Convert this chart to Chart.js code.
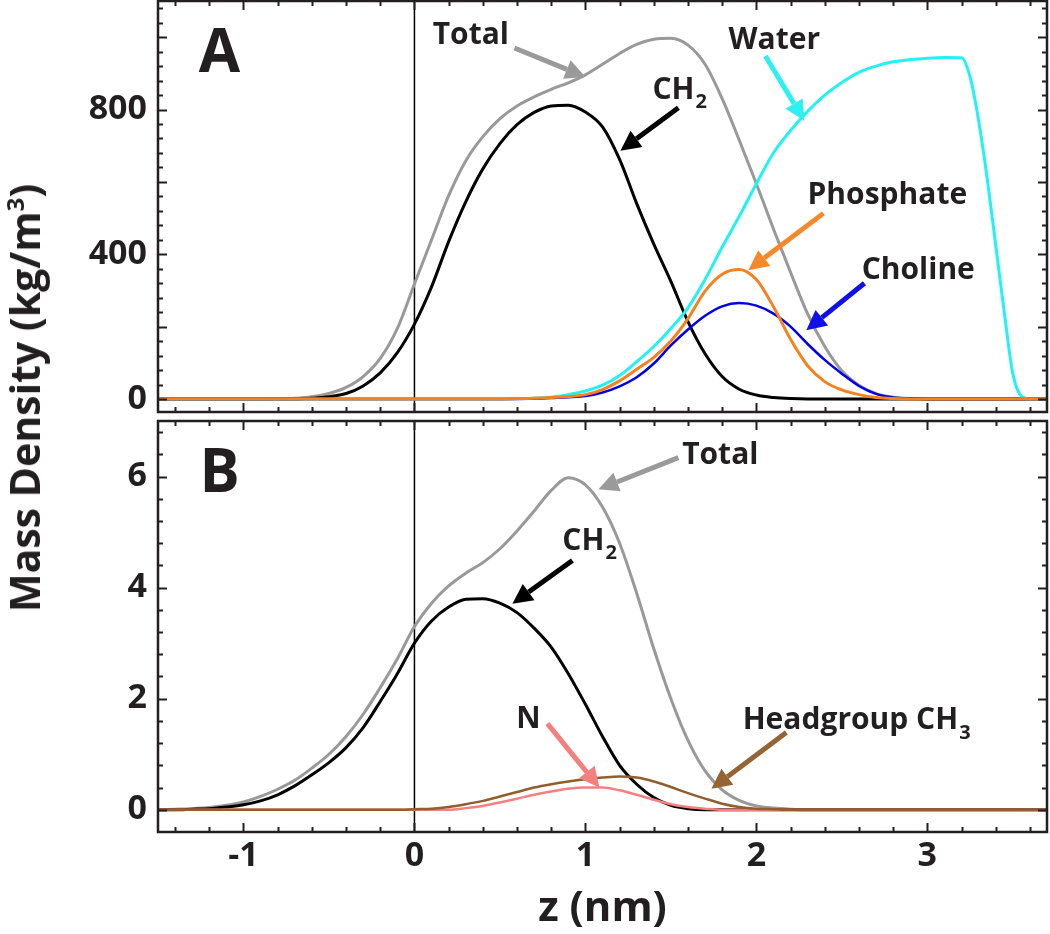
<!DOCTYPE html>
<html>
<head>
<meta charset="utf-8">
<title>Mass density profiles</title>
<script src="https://cdn.jsdelivr.net/npm/chart.js@4"></script>
<style>
  body { margin: 0; background: #fff; width: 1050px; height: 934px; position: relative; overflow: hidden; }
  #wrapA { position: absolute; left: 0; top: 0; width: 1050px; height: 415px; }
  #wrapB { position: absolute; left: 0; top: 415px; width: 1050px; height: 519px; }
  #yTitle {
    position: absolute; left: 24px; top: 398px;
    transform: translate(-50%, -50%) rotate(-90deg);
    white-space: nowrap; color: #231f20;
    font: 700 41px "Open Sans", sans-serif;
  }
  #yTitle sup { font-size: 24px; vertical-align: 16px; line-height: 0; }
</style>
</head>
<body>
<div id="wrapA"><canvas id="chartA" width="1050" height="415"></canvas></div>
<div id="wrapB"><canvas id="chartB" width="1050" height="519"></canvas></div>
<div id="yTitle">Mass Density (kg/m<sup>3</sup>)</div>

<script>
// ---------------- Data ----------------
// z positions (nm), shared grid
const Z = [-1.5, -1.4, -1.3, -1.2, -1.1, -1.0, -0.9, -0.8, -0.7, -0.6, -0.5, -0.4, -0.3, -0.2, -0.1,
  0.0, 0.1, 0.2, 0.3, 0.4, 0.5, 0.6, 0.7, 0.8, 0.9, 1.0, 1.1, 1.2, 1.3, 1.4, 1.5, 1.6, 1.7, 1.8, 1.9,
  2.0, 2.1, 2.2, 2.3, 2.4, 2.5, 2.6, 2.7, 2.8, 2.9, 3.0, 3.1, 3.2, 3.3, 3.4, 3.5, 3.6, 3.7];

// Panel A (kg/m^3)
const TOTAL_A = [0, 0, 0, 0, 0, 0, 0, 1, 2, 6, 15, 32, 62, 112, 195,
  318, 440, 562, 658, 725, 775, 810, 835, 856, 874, 896, 925, 955, 980, 994, 997, 978, 925, 830, 715,
  595, 470, 350, 235, 145, 78, 38, 15, 5, 1, 0, 0, 0, 0, 0, 0, 0, 0];
const CH2_A = [0, 0, 0, 0, 0, 0, 0, 0, 0, 2, 6, 15, 36, 72, 128,
  207, 310, 435, 545, 636, 706, 758, 792, 810, 812, 793, 752, 662, 540, 428, 325, 214, 125, 62, 27,
  11, 4, 1, 0, 0, 0, 0, 0, 0, 0, 0, 0, 0, 0, 0, 0, 0, 0];
const PHOSPHATE_A = [0, 0, 0, 0, 0, 0, 0, 0, 0, 0, 0, 0, 0, 0, 0,
  0, 0, 0, 0, 0, 0, 1, 2, 4, 7, 12, 26, 50, 82, 115, 160, 222, 298, 345, 358,
  330, 255, 165, 92, 48, 25, 12, 4, 1, 0, 0, 0, 0, 0, 0, 0, 0, 0];
const CHOLINE_A = [0, 0, 0, 0, 0, 0, 0, 0, 0, 0, 0, 0, 0, 0, 0,
  0, 0, 0, 0, 0, 0, 0, 1, 3, 5, 8, 18, 35, 60, 98, 148, 192, 230, 256, 265,
  258, 236, 200, 152, 108, 70, 36, 14, 4, 1, 0, 0, 0, 0, 0, 0, 0, 0];
// water has a sharp edge near the box end, so it gets its own finer grid
const WATER_Z = [-1.5, -1.0, -0.5, 0.0, 0.5, 0.6, 0.7, 0.8, 0.9, 1.0, 1.1, 1.2, 1.3, 1.4, 1.5, 1.6, 1.7, 1.8, 1.9,
  2.0, 2.1, 2.2, 2.3, 2.4, 2.5, 2.6, 2.7, 2.8, 2.9, 3.0, 3.1, 3.2,
  3.25, 3.3, 3.35, 3.4, 3.45, 3.5, 3.55, 3.6, 3.7];
const WATER_A = [0, 0, 0, 0, 0, 1, 2, 5, 12, 22, 38, 65, 103, 145, 195, 252, 330, 420, 505,
  595, 680, 742, 795, 840, 875, 903, 920, 932, 938, 942, 944, 943,
  890, 770, 610, 425, 240, 70, 8, 0, 0];

// Panel B
const TOTAL_B = [0, 0.01, 0.02, 0.04, 0.08, 0.14, 0.24, 0.37, 0.53, 0.75, 1.0, 1.32, 1.72, 2.2, 2.72,
  3.3, 3.72, 4.03, 4.26, 4.45, 4.7, 5.02, 5.38, 5.75, 5.98, 5.85, 5.45, 4.8, 3.9, 2.9, 2.0, 1.25, 0.7, 0.36, 0.17,
  0.07, 0.03, 0.01, 0, 0, 0, 0, 0, 0, 0, 0, 0, 0, 0, 0, 0, 0, 0];
const CH2_B = [0, 0, 0.01, 0.02, 0.05, 0.09, 0.16, 0.27, 0.43, 0.63, 0.85, 1.12, 1.48, 1.95, 2.45,
  3.0, 3.4, 3.65, 3.79, 3.8, 3.72, 3.55, 3.27, 2.93, 2.45, 1.9, 1.32, 0.8, 0.46, 0.22, 0.08, 0.02, 0, 0, 0,
  0, 0, 0, 0, 0, 0, 0, 0, 0, 0, 0, 0, 0, 0, 0, 0, 0, 0];
const HEAD_CH3_B = [0, 0, 0, 0, 0, 0, 0, 0, 0, 0, 0, 0, 0, 0, 0,
  0.01, 0.02, 0.05, 0.1, 0.16, 0.24, 0.32, 0.4, 0.46, 0.51, 0.55, 0.58, 0.6, 0.58, 0.51, 0.41, 0.3, 0.2, 0.11, 0.05,
  0.02, 0.01, 0, 0, 0, 0, 0, 0, 0, 0, 0, 0, 0, 0, 0, 0, 0, 0];
const N_B = [0, 0, 0, 0, 0, 0, 0, 0, 0, 0, 0, 0, 0, 0, 0,
  0, 0, 0, 0.03, 0.07, 0.13, 0.2, 0.27, 0.33, 0.38, 0.4, 0.4, 0.35, 0.27, 0.18, 0.1, 0.05, 0.02, 0, 0,
  0, 0, 0, 0, 0, 0, 0, 0, 0, 0, 0, 0, 0, 0, 0, 0, 0, 0];

// tick labels
const X_TICKS = [-1, 0, 1, 2, 3];
const Y_TICKS_A = [0, 400, 800];
const Y_TICKS_B = [0, 2, 4, 6];

// annotations: label at (z, v), arrow from -> to, all in data units
const NOTES_A = [
  { text: "Total", at: [0.33, 1004], from: [0.585, 970], to: [1.0, 890], color: "#9a9a9a" },
  { text: "CH", sub: "2", at: [1.515, 852], from: [1.544, 805], to: [1.205, 686], color: "#000000" },
  { text: "Water", at: [2.105, 990], from: [2.053, 948], to: [2.281, 769], color: "#2ef0f0" },
  { text: "Phosphate", at: [2.766, 562], from: [2.392, 513], to: [1.953, 356], color: "#f7882a" },
  { text: "Choline", at: [2.947, 356], from: [2.632, 320], to: [2.292, 190], color: "#1010e8" }
];
const NOTES_B = [
  { text: "Total", at: [1.789, 6.38], from: [1.544, 6.34], to: [1.076, 5.77], color: "#9a9a9a" },
  { text: "CH", sub: "2", at: [0.988, 4.83], from: [0.924, 4.49], to: [0.573, 3.71], color: "#000000" },
  { text: "N", at: [0.667, 1.62], from: [0.778, 1.55], to: [1.082, 0.40], color: "#f47f7f" },
  { text: "Headgroup CH", sub: "3", at: [2.55, 1.60], from: [2.175, 1.39], to: [1.737, 0.38], color: "#946434" }
];

// ---------------- Helpers ----------------
const INK = "#231f20";
const TICK_FONT = { family: "Open Sans", weight: "bold", size: 34 };

function series(label, xs, ys, color, width) {
  return {
    label,
    data: xs.map((z, i) => ({ x: z, y: ys[i] })),
    borderColor: color,
    borderWidth: width,
    pointRadius: 0,
    fill: false,
    cubicInterpolationMode: "monotone"
  };
}

// no label padding, so the plot box stays exactly where the layout puts it
function noPad(s) {
  s.paddingTop = 0; s.paddingBottom = 0; s.paddingLeft = 0; s.paddingRight = 0;
}

function drawArrow(ctx, x0, y0, x1, y1, color) {
  const ang = Math.atan2(y1 - y0, x1 - x0);
  const headLen = 20, headW = 10;
  const bx = x1 - headLen * Math.cos(ang), by = y1 - headLen * Math.sin(ang);
  ctx.strokeStyle = color;
  ctx.lineWidth = 5;
  ctx.lineCap = "butt";
  ctx.beginPath(); ctx.moveTo(x0, y0); ctx.lineTo(bx, by); ctx.stroke();
  ctx.fillStyle = color;
  ctx.beginPath();
  ctx.moveTo(x1, y1);
  ctx.lineTo(bx + headW * Math.sin(ang), by - headW * Math.cos(ang));
  ctx.lineTo(bx - headW * Math.sin(ang), by + headW * Math.cos(ang));
  ctx.closePath();
  ctx.fill();
}

// frame, inward ticks, zero line, panel letter, annotations
function decor(letter, yMinorStep, yMajorEvery, yTop, notes) {
  return {
    id: "decor",
    beforeDatasetsDraw(chart) {
      const { ctx, chartArea: a, scales: { x } } = chart;
      const x0 = x.getPixelForValue(0);
      ctx.save();
      ctx.strokeStyle = "#000";
      ctx.lineWidth = 1.5;
      ctx.beginPath(); ctx.moveTo(x0, a.top); ctx.lineTo(x0, a.bottom); ctx.stroke();
      ctx.restore();
    },
    afterDraw(chart) {
      const { ctx, chartArea: a, scales: { x, y } } = chart;
      ctx.save();
      ctx.strokeStyle = INK;
      ctx.lineWidth = 2;
      // x ticks every 0.2, long at integers
      for (let k = -7; k <= 18; k++) {
        const px = Math.round(x.getPixelForValue(k * 0.2)) + 0.5;
        const len = k % 5 === 0 ? 9 : 5;
        ctx.beginPath();
        ctx.moveTo(px, a.bottom); ctx.lineTo(px, a.bottom - len);
        ctx.moveTo(px, a.top); ctx.lineTo(px, a.top + len);
        ctx.stroke();
      }
      // y ticks
      for (let k = 0; k * yMinorStep <= yTop; k++) {
        const py = Math.round(y.getPixelForValue(k * yMinorStep)) + 0.5;
        const len = k % yMajorEvery === 0 ? 9 : 5;
        ctx.beginPath();
        ctx.moveTo(a.left, py); ctx.lineTo(a.left + len, py);
        ctx.moveTo(a.right, py); ctx.lineTo(a.right - len, py);
        ctx.stroke();
      }
      // frame
      ctx.lineWidth = 2.5;
      ctx.strokeStyle = INK;
      ctx.strokeRect(a.left, a.top, a.right - a.left, a.bottom - a.top);

      // panel letter
      ctx.fillStyle = INK;
      ctx.font = "700 60px 'Open Sans'";
      ctx.textAlign = "center";
      ctx.textBaseline = "middle";
      ctx.fillText(letter, x.getPixelForValue(-1.14), a.top + 54);

      // annotations
      notes.forEach(n => {
        drawArrow(ctx, x.getPixelForValue(n.from[0]), y.getPixelForValue(n.from[1]),
          x.getPixelForValue(n.to[0]), y.getPixelForValue(n.to[1]), n.color);
        const cx = x.getPixelForValue(n.at[0]), cy = y.getPixelForValue(n.at[1]);
        ctx.fillStyle = INK;
        ctx.font = "700 30px 'Open Sans'";
        ctx.textAlign = "center";
        ctx.textBaseline = "middle";
        ctx.fillText(n.text, cx, cy);
        if (n.sub) {
          const w = ctx.measureText(n.text).width;
          ctx.font = "700 20px 'Open Sans'";
          ctx.textAlign = "left";
          ctx.fillText(n.sub, cx + w / 2 + 1, cy + 12);
        }
      });
      ctx.restore();
    }
  };
}

function yAxis(min, max, ticks) {
  return {
    min, max,
    grid: { display: false, drawTicks: false },
    border: { display: false },
    afterBuildTicks: s => { s.ticks = ticks.map(v => ({ value: v })); },
    afterFit: s => { s.width = 158; noPad(s); },
    ticks: { padding: 11, color: INK, font: TICK_FONT }
  };
}

// ---------------- Panel A ----------------
new Chart(document.getElementById("chartA"), {
  type: "line",
  data: {
    datasets: [
      series("Phosphate", Z, PHOSPHATE_A, "#f7801f", 3),
      series("Choline", Z, CHOLINE_A, "#0000e6", 2.5),
      series("Water", WATER_Z, WATER_A, "#22f2f2", 3),
      series("CH2", Z, CH2_A, "#000000", 3),
      series("Total", Z, TOTAL_A, "#999999", 3)
    ]
  },
  options: {
    responsive: false,
    animation: false,
    layout: { padding: { left: 0, right: 3, top: 1, bottom: 3 } },
    plugins: { legend: { display: false }, tooltip: { enabled: false } },
    scales: {
      x: { type: "linear", min: -1.5, max: 3.7, display: false },
      y: yAxis(-36, 1100, Y_TICKS_A)
    }
  },
  plugins: [decor("A", 40, 5, 1080, NOTES_A)]
});

// ---------------- Panel B ----------------
new Chart(document.getElementById("chartB"), {
  type: "line",
  data: {
    datasets: [
      series("Headgroup CH3", Z, HEAD_CH3_B, "#8f5f2e", 2.5),
      series("N", Z, N_B, "#f58080", 2.5),
      series("CH2", Z, CH2_B, "#000000", 3),
      series("Total", Z, TOTAL_B, "#999999", 3)
    ]
  },
  options: {
    responsive: false,
    animation: false,
    layout: { padding: { left: 0, right: 3, top: 6, bottom: 0 } },
    plugins: { legend: { display: false }, tooltip: { enabled: false } },
    scales: {
      x: {
        type: "linear", min: -1.5, max: 3.7,
        grid: { display: false, drawTicks: false },
        border: { display: false },
        afterBuildTicks: s => { s.ticks = X_TICKS.map(v => ({ value: v })); },
        afterFit: s => { s.height = 102; noPad(s); },
        ticks: { padding: 4, color: INK, font: TICK_FONT, maxRotation: 0 },
        title: {
          display: true, text: "z (nm)", color: INK,
          font: { family: "Open Sans", weight: "bold", size: 42 },
          padding: { top: 0, bottom: 0 }
        }
      },
      y: yAxis(-0.4, 7, Y_TICKS_B)
    }
  },
  plugins: [decor("B", 0.4, 5, 6.9, NOTES_B)]
});
</script>
</body>
</html>
